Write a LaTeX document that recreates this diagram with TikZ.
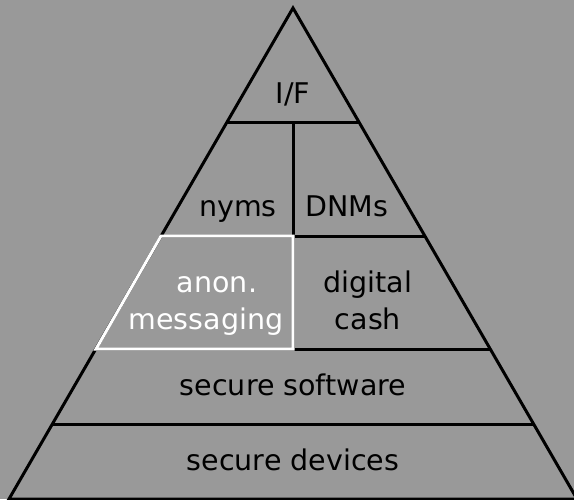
\documentclass[tikz,border=0pt]{standalone}
\usepackage{fontspec}
\setmainfont{DejaVu Sans}
\definecolor{bggray}{HTML}{999999}
\tikzset{
  edge/.style={line width=3pt, black},
  hilite/.style={line width=3pt, white, line join=miter},
  lbl/.style={anchor=base, inner sep=0pt, font=\fontsize{28.5}{34}\selectfont, text=black},
  lblw/.style={lbl, text=white}
}
\begin{document}
\begin{tikzpicture}[x=1pt,y=-1pt]
\fill[bggray] (0,0) rectangle (574,499);
\useasboundingbox (0,0) rectangle (574,499);
\clip (0,0) rectangle (574,499);
% apex and corners
\coordinate (top) at (293,8);
\coordinate (bl) at (9,499);
\coordinate (br) at (577,499);
% level edges
\coordinate (l1) at (227,122); \coordinate (r1) at (359,122);
\coordinate (l2) at (161,236); \coordinate (r2) at (425,236);
\coordinate (l3) at (96,349);  \coordinate (r3) at (490,349);
\coordinate (l4) at (52,424);  \coordinate (r4) at (534,424);
\coordinate (m1) at (293,122); \coordinate (m2) at (293,236); \coordinate (m3) at (293,349);
\draw[edge, line join=miter] (bl) -- (top) -- (br) -- cycle;
\draw[edge] (l1) -- (r1);
\draw[edge] (l2) -- (r2);
\draw[edge] (l3) -- (r3);
\draw[edge] (l4) -- (r4);
\draw[edge] (m1) -- (m3);
\draw[hilite] (l2) -- (m2) -- (m3) -- (l3) -- cycle;
% labels
\node[lbl] (if) at (293,103) {I/F};
\node[lbl] (nyms) at (238,216) {nyms};
\node[lbl] (dnms) at (347,216) {DNMs};
\node[lblw] (anon) at (217,292) {anon.};
\node[lblw] (msg) at (206,329) {messaging};
\node[lbl] (digital) at (368,292) {digital};
\node[lbl] (cash) at (368,329) {cash};
\node[lbl] (sw) at (293,395) {secure software};
\node[lbl] (dev) at (293,470) {secure devices};
\end{tikzpicture}
\end{document}
